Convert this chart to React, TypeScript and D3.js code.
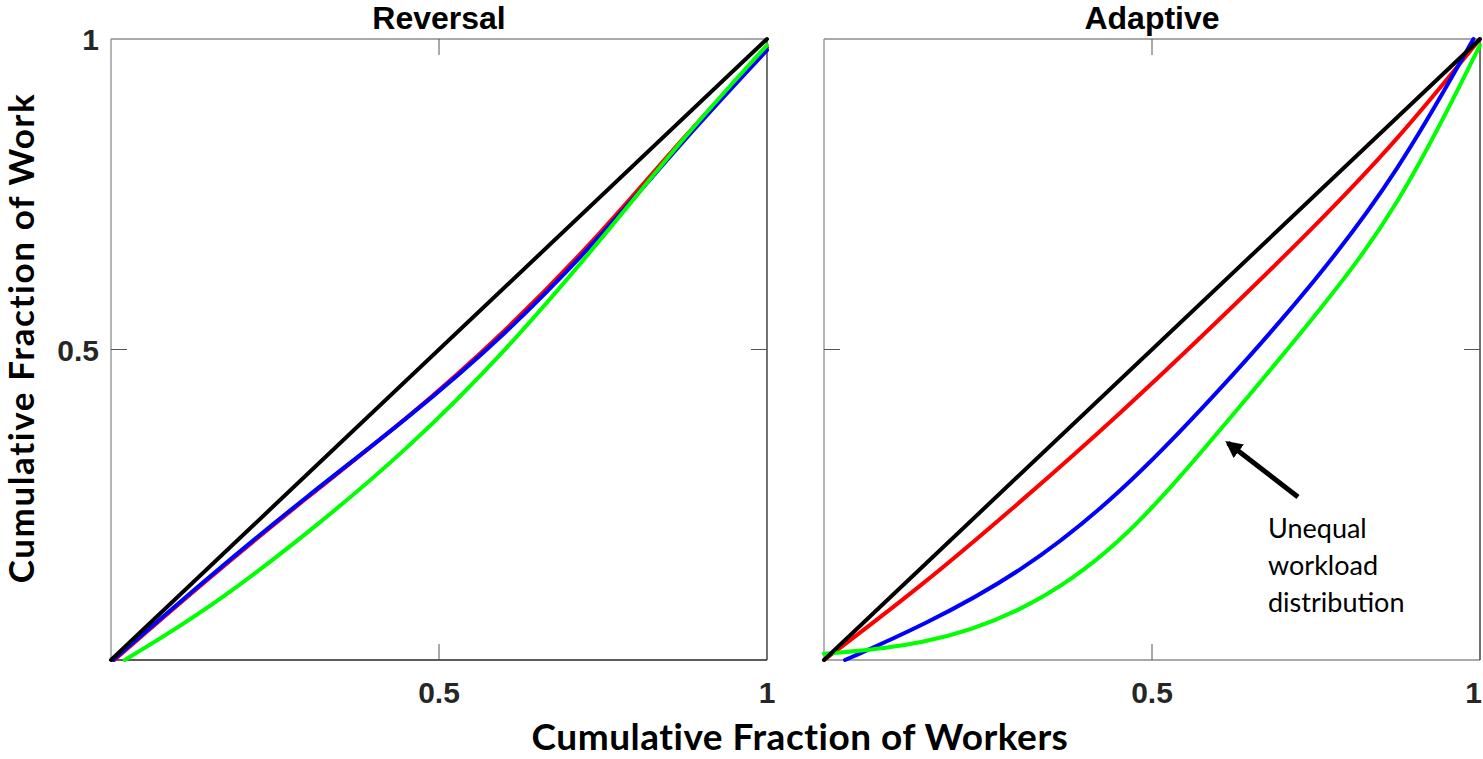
import React from "react";
import * as d3 from "d3";

// panel titles and tick labels
const panelTitles = ["Reversal", "Adaptive"];
const tickValues = [0.5, 1];
const tickLabels = ["0.5", "1"];

// Reversal panel (x = cumulative fraction of workers, y = cumulative fraction of work)
const revRedX = [0.005, 0.15, 0.3, 0.45, 0.6, 0.75, 0.875, 1];
const revRedY = [0, 0.133, 0.263, 0.387, 0.527, 0.69, 0.845, 0.986];
const revBlueX = [0.003, 0.15, 0.3, 0.45, 0.6, 0.75, 0.875, 1];
const revBlueY = [0, 0.135, 0.265, 0.387, 0.522, 0.685, 0.84, 0.982];
const revGreenX = [0.021, 0.15, 0.3, 0.45, 0.6, 0.75, 0.875, 1];
const revGreenY = [0, 0.083, 0.204, 0.337, 0.495, 0.68, 0.845, 0.99];

// Adaptive panel
const adaRedX = [0, 0.15, 0.3, 0.45, 0.6, 0.75, 0.875, 1];
const adaRedY = [0, 0.12, 0.255, 0.395, 0.545, 0.7, 0.838, 1];
const adaBlueX = [0.032, 0.15, 0.3, 0.45, 0.6, 0.75, 0.875, 0.99];
const adaBlueY = [0, 0.055, 0.14, 0.265, 0.43, 0.61, 0.785, 1];
const adaGreenX = [0, 0.15, 0.3, 0.45, 0.6, 0.75, 0.875, 1];
const adaGreenY = [0.01, 0.023, 0.074, 0.18, 0.365, 0.555, 0.725, 0.99];

// line of equality
const equalX = [0, 1];
const equalY = [0, 1];

const W = 1483;
const H = 759;
const top = 39;
const bottom = 660;
const panelLefts = [111, 824];
const panelWidth = 656;
const tickLen = 16;

const zip = (xs: number[], ys: number[]) => xs.map((x, i) => [x, ys[i]] as [number, number]);

const panels = [
  [
    { color: "#ff0000", pts: zip(revRedX, revRedY) },
    { color: "#0000ff", pts: zip(revBlueX, revBlueY) },
    { color: "#00ff00", pts: zip(revGreenX, revGreenY) },
    { color: "#000000", pts: zip(equalX, equalY) },
  ],
  [
    { color: "#ff0000", pts: zip(adaRedX, adaRedY) },
    { color: "#0000ff", pts: zip(adaBlueX, adaBlueY) },
    { color: "#00ff00", pts: zip(adaGreenX, adaGreenY) },
    { color: "#000000", pts: zip(equalX, equalY) },
  ],
];

const tickFont = "'Liberation Sans', Arial, sans-serif";
const labelFont = "Lato, 'Open Sans', sans-serif";

const Panel = ({ idx }: { idx: number }) => {
  const x = d3.scaleLinear().domain([0, 1]).range([panelLefts[idx], panelLefts[idx] + panelWidth]);
  const y = d3.scaleLinear().domain([0, 1]).range([bottom, top]);
  const line = d3
    .line<[number, number]>()
    .x((d) => x(d[0]))
    .y((d) => y(d[1]))
    .curve(d3.curveBasis);
  const x0 = x(0);
  const x1 = x(1);
  const light = idx === 1;
  return (
    <g>
      <text x={x(0.5)} y={29} textAnchor="middle" fontFamily={tickFont} fontWeight="bold" fontSize={32} fill="#000">
        {panelTitles[idx]}
      </text>
      {/* box */}
      <line x1={x0} x2={x1} y1={y(1)} y2={y(1)} stroke="#8c8c8c" strokeWidth={1.3} />
      <line x1={x0} x2={x0} y1={y(0)} y2={y(1)} stroke="#8c8c8c" strokeWidth={1.3} />
      <line x1={x0} x2={x1} y1={y(0)} y2={y(0)} stroke={light ? "#8c8c8c" : "#262626"} strokeWidth={1.3} />
      <line x1={x1} x2={x1} y1={y(0)} y2={y(1)} stroke="#262626" strokeWidth={1.3} />
      {/* inward ticks */}
      <line x1={x(0.5)} x2={x(0.5)} y1={y(0)} y2={y(0) - tickLen} stroke="#555" />
      <line x1={x(0.5)} x2={x(0.5)} y1={y(1)} y2={y(1) + tickLen} stroke="#555" />
      <line x1={x0} x2={x0 + tickLen} y1={y(0.5)} y2={y(0.5)} stroke="#555" />
      <line x1={x1} x2={x1 - tickLen} y1={y(0.5)} y2={y(0.5)} stroke="#555" />
      {/* curves */}
      {panels[idx].map((s, i) => (
        <path key={i} d={line(s.pts) || ""} fill="none" stroke={s.color} strokeWidth={4} strokeLinecap="round" />
      ))}
      {/* x tick labels */}
      {tickValues.map((t, i) => {
        const edge = idx === 1 && t === 1;
        return (
          <text
            key={"x" + i}
            x={edge ? W - 1 : x(t)}
            y={703}
            textAnchor={edge ? "end" : "middle"}
            fontFamily={tickFont}
            fontWeight="bold"
            fontSize={30}
            fill="#262626"
          >
            {tickLabels[i]}
          </text>
        );
      })}
      {/* y tick labels only on first panel */}
      {idx === 0 &&
        tickValues.map((t, i) => (
          <text key={"y" + i} x={99} y={y(t) + 11} textAnchor="end" fontFamily={tickFont} fontWeight="bold" fontSize={30} fill="#262626">
            {tickLabels[i]}
          </text>
        ))}
    </g>
  );
};

export default function App() {
  return (
    <svg width={W} height={H} style={{ position: "absolute", left: 0, top: 0, background: "#fff" }}>
      <defs>
        <marker id="head" viewBox="0 0 10 10" refX="8" refY="5" markerWidth="3.4" markerHeight="3.4" orient="auto">
          <path d="M0,0 L10,5 L0,10 Z" fill="#000" />
        </marker>
      </defs>
      <Panel idx={0} />
      <Panel idx={1} />
      <text
        transform="translate(34,338) rotate(-90)"
        textAnchor="middle"
        fontFamily={labelFont}
        fontWeight="bold"
        fontSize={35}
        letterSpacing={1.6}
        fill="#000"
      >
        Cumulative Fraction of Work
      </text>
      <text x={800} y={750} textAnchor="middle" fontFamily={labelFont} fontWeight="bold" fontSize={37} letterSpacing={0.5} fill="#000">
        Cumulative Fraction of Workers
      </text>
      <line x1={1298} y1={497} x2={1228} y2={443} stroke="#000" strokeWidth={5} markerEnd="url(#head)" />
      <text fontFamily={labelFont} fontSize={27} fill="#000">
        <tspan x={1268} y={538}>Unequal</tspan>
        <tspan x={1268} y={575}>workload</tspan>
        <tspan x={1268} y={612}>distribution</tspan>
      </text>
    </svg>
  );
}
